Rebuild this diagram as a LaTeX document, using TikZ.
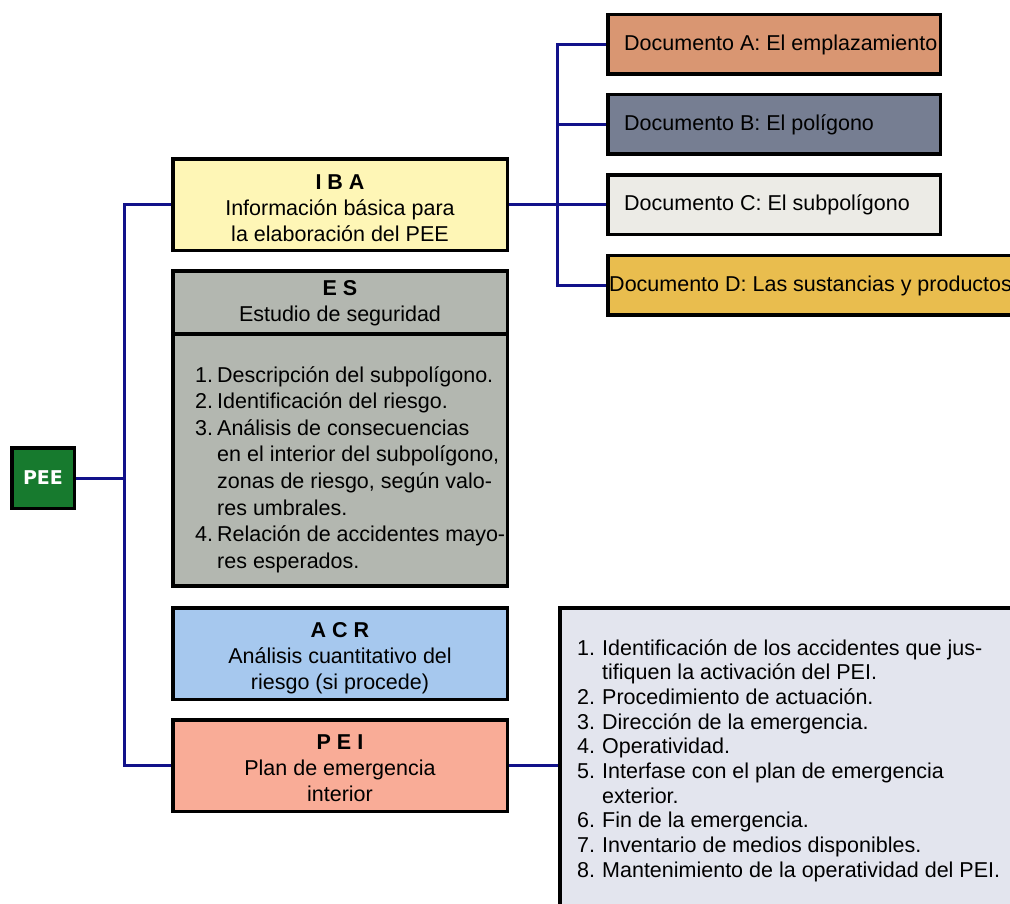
\documentclass[tikz,border=0pt]{standalone}
\usepackage{fontspec}
\setmainfont{Liberation Sans}
\newfontfamily\peefont{DejaVu Sans}
\definecolor{peegreen}{HTML}{177A2E}
\definecolor{ibacol}{HTML}{FEF6B6}
\definecolor{escol}{HTML}{B3B7B0}
\definecolor{acrcol}{HTML}{A6C8EE}
\definecolor{peicol}{HTML}{F9AC97}
\definecolor{docAcol}{HTML}{D99672}
\definecolor{docBcol}{HTML}{767E92}
\definecolor{docCcol}{HTML}{ECEBE6}
\definecolor{docDcol}{HTML}{E9BD4E}
\definecolor{listcol}{HTML}{E3E5EE}
\definecolor{linenavy}{HTML}{12128A}
\begin{document}
\begin{tikzpicture}[x=1pt,y=-1pt,
  box/.style={draw=black, line width=3.5pt, rectangle, inner sep=0pt},
  midbox/.style={box, minimum width=334.5pt, minimum height=91.5pt},
  docbox/.style={box, minimum width=332.5pt, minimum height=59.5pt},
  boxtext/.style={inner sep=0pt, align=center, font=\fontsize{21.5}{26}\selectfont},
  doctext/.style={anchor=west, inner sep=0pt, font=\fontsize{21.5}{26}\selectfont},
  listtext/.style={anchor=north west, inner sep=0pt, align=left},
  conn/.style={draw=linenavy, line width=3pt},
]
\clip (0,0) rectangle (1010,904);
\fill[white] (0,0) rectangle (1010,904);

% root
\node[box, fill=peegreen, minimum width=62.5pt, minimum height=60.5pt,
  font=\peefont\bfseries\fontsize{19}{22}\selectfont, text=white] (pee) at (43,478) {PEE};

% middle column
\node[midbox, fill=ibacol] (iba) at (340,205) {};
\node[boxtext, yshift=-3pt] (ibatxt) at (iba) {\textbf{I B A}\\Información básica para\\la elaboración del PEE};
\node[box, fill=escol, minimum width=334.5pt, minimum height=63.25pt] (esh) at (340,302.4) {};
\node[boxtext, yshift=-1pt] (eshtxt) at (esh) {\textbf{E S}\\Estudio de seguridad};
\node[box, fill=escol, minimum width=334.5pt, minimum height=252.25pt] (esb) at (340,460.1) {};
\node[listtext, font=\fontsize{21.5}{26.6}\selectfont] (estxt) at (195,366) {%
\makebox[22pt][l]{1.}Descripción del subpolígono.\\
\makebox[22pt][l]{2.}Identificación del riesgo.\\
\makebox[22pt][l]{3.}Análisis de consecuencias\\
\hspace*{22pt}en el interior del subpolígono,\\
\hspace*{22pt}zonas de riesgo, según valo-\\
\hspace*{22pt}res umbrales.\\
\makebox[22pt][l]{4.}Relación de accidentes mayo-\\
\hspace*{22pt}res esperados.};
\node[midbox, fill=acrcol] (acr) at (340,653.5) {};
\node[boxtext, yshift=-5pt] (acrtxt) at (acr) {\textbf{A C R}\\Análisis cuantitativo del\\riesgo (si procede)};
\node[midbox, fill=peicol] (pei) at (340,765.5) {};
\node[boxtext, yshift=-3pt] (peitxt) at (pei) {\textbf{P E I}\\Plan de emergencia\\interior};

% documents
\node[docbox, fill=docAcol] (docA) at (774,44.5) {};
\node[docbox, fill=docBcol] (docB) at (774,124.5) {};
\node[docbox, fill=docCcol] (docC) at (774,205) {};
\node[box, fill=docDcol, minimum width=435.25pt, minimum height=59.5pt] (docD) at (825.4,285.5) {};
\node[doctext, xshift=18pt] (tA) at (docA.west) {Documento A: El emplazamiento};
\node[doctext, xshift=18pt] (tB) at (docB.west) {Documento B: El polígono};
\node[doctext, xshift=18pt] (tC) at (docC.west) {Documento C: El subpolígono};
\node[doctext, xshift=3pt] (tD) at (docD.west) {Documento D: Las sustancias y productos};

% PEI list
\node[box, fill=listcol, minimum width=483.25pt, minimum height=330pt] (lst) at (801.4,772.9) {};
\node[listtext, font=\fontsize{21.5}{24.7}\selectfont] (lsttxt) at (577,639) {%
\makebox[25pt][l]{1.}Identificación de los accidentes que jus-\\
\hspace*{25pt}tifiquen la activación del PEI.\\
\makebox[25pt][l]{2.}Procedimiento de actuación.\\
\makebox[25pt][l]{3.}Dirección de la emergencia.\\
\makebox[25pt][l]{4.}Operatividad.\\
\makebox[25pt][l]{5.}Interfase con el plan de emergencia\\
\hspace*{25pt}exterior.\\
\makebox[25pt][l]{6.}Fin de la emergencia.\\
\makebox[25pt][l]{7.}Inventario de medios disponibles.\\
\makebox[25pt][l]{8.}Mantenimiento de la operatividad del PEI.};

% connectors
\coordinate (trunk) at (124,0);
\coordinate (dtrunk) at (557,0);
\draw[conn] (pee.east) -- (pee.east -| trunk);
\draw[conn] (iba.west) -- (iba.west -| trunk) -- (pei.west -| trunk) -- (pei.west);
\draw[conn] (iba.east) -- (docC.west);
\draw[conn] (docA.west) -- (docA.west -| dtrunk) -- (docD.west -| dtrunk) -- (docD.west);
\draw[conn] (docB.west) -- (docB.west -| dtrunk);
\draw[conn] (pei.east) -- (pei.east -| lst.west);
\end{tikzpicture}
\end{document}
